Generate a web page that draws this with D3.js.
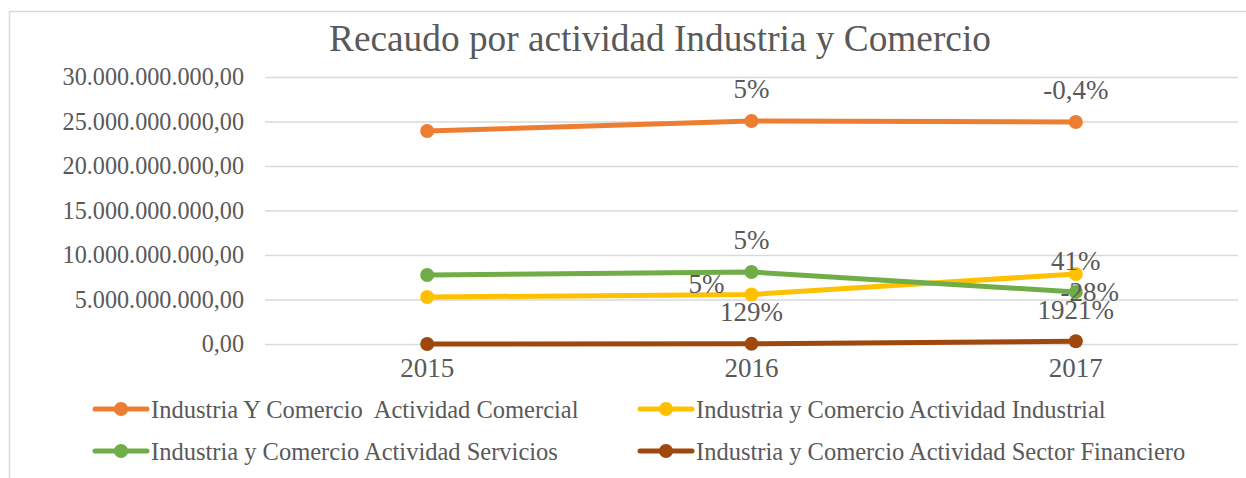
<!DOCTYPE html>
<html>
<head>
<meta charset="utf-8">
<script src="https://cdn.jsdelivr.net/npm/d3@7"></script>
<style>
  body { margin: 0; background: #fff; }
  text { font-family: "Liberation Serif", "Times New Roman", serif; fill: #595959; }
</style>
</head>
<body>
<div id="chart"></div>
<script>
// chart data
var years = ["2015", "2016", "2017"];
var seriesNames = [
  "Industria Y Comercio  Actividad Comercial",
  "Industria y Comercio Actividad Industrial",
  "Industria y Comercio Actividad Servicios",
  "Industria y Comercio Actividad Sector Financiero"
];
var comercial  = [23930000000, 25060000000, 24950000000];
var industrial = [5280000000, 5560000000, 7870000000];
var servicios  = [7750000000, 8090000000, 5840000000];
var financiero = [6500000, 14900000, 301000000];
var yTicks = [0, 5e9, 10e9, 15e9, 20e9, 25e9, 30e9];
// percentage labels (null = no label)
var comercialLabels  = [null, "5%", "-0,4%"];
var industrialLabels = [null, "5%", "41%"];
var serviciosLabels  = [null, "5%", "-28%"];
var financieroLabels = [null, "129%", "1921%"];
var colors = ["#ED7D31", "#FFC000", "#70AD47", "#9E480E"];

var W = 1246, H = 478;
var plot = {left: 265, right: 1238, top: 77, bottom: 344};

var svg = d3.select("#chart").append("svg")
  .attr("width", W).attr("height", H);

svg.append("rect").attr("width", W).attr("height", H).attr("fill", "#fff");
// outer chart border
svg.append("rect")
  .attr("x", 9.5).attr("y", 11.5)
  .attr("width", 1250).attr("height", 500)
  .attr("fill", "none").attr("stroke", "#d9d9d9").attr("stroke-width", 1.5);

svg.append("text")
  .attr("x", 660).attr("y", 51)
  .attr("text-anchor", "middle")
  .style("font-size", "37.3px")
  .text("Recaudo por actividad Industria y Comercio");

var x = d3.scaleBand().domain(years).range([plot.left, plot.right]);
var y = d3.scaleLinear().domain([0, 30e9]).range([plot.bottom, plot.top]);

var fmt = function(v) {
  var s = d3.format(",.2f")(v);
  return s.replace(/,/g, "#").replace(".", ",").replace(/#/g, ".");
};

// gridlines + y labels
var yAxis = svg.append("g")
  .attr("transform", "translate(" + plot.left + ",0)")
  .call(d3.axisLeft(y).tickValues(yTicks).tickFormat(fmt)
    .tickSize(-(plot.right - plot.left)).tickPadding(21));
yAxis.select(".domain").remove();
yAxis.selectAll("line").attr("stroke", "#d9d9d9").attr("stroke-width", 1.5);
yAxis.selectAll("text").style("font-size", "24.2px").attr("fill", "#595959");

// x labels
var xAxis = svg.append("g")
  .attr("transform", "translate(0," + plot.bottom + ")")
  .call(d3.axisBottom(x).tickSize(0).tickPadding(14));
xAxis.select(".domain").remove();
xAxis.selectAll("text").style("font-size", "27px").attr("fill", "#595959");

var all = [
  {name: seriesNames[0], values: comercial,  labels: comercialLabels,  color: colors[0], pos: ["", "above", "above"]},
  {name: seriesNames[1], values: industrial, labels: industrialLabels, color: colors[1], pos: ["", "left", "aboveNear"]},
  {name: seriesNames[2], values: servicios,  labels: serviciosLabels,  color: colors[2], pos: ["", "above", "right"]},
  {name: seriesNames[3], values: financiero, labels: financieroLabels, color: colors[3], pos: ["", "above", "above"]}
];

var line = d3.line()
  .x(function(d, i) { return x(years[i]) + x.bandwidth() / 2; })
  .y(function(d) { return y(d); });

all.forEach(function(s) {
  var g = svg.append("g");
  g.append("path").datum(s.values)
    .attr("d", line).attr("fill", "none")
    .attr("stroke", s.color).attr("stroke-width", 5)
    .attr("stroke-linecap", "round").attr("stroke-linejoin", "round");
  g.selectAll("circle").data(s.values).enter().append("circle")
    .attr("cx", function(d, i) { return x(years[i]) + x.bandwidth() / 2; })
    .attr("cy", function(d) { return y(d); })
    .attr("r", 7).attr("fill", s.color);
});

var offsets = {
  above: {dx: 0, dy: -32, anchor: "middle"},
  aboveNear: {dx: 0, dy: -13, anchor: "middle"},
  left: {dx: -27, dy: -11, anchor: "end"},
  right: {dx: 14, dy: 0, anchor: "middle"}
};
all.forEach(function(s) {
  s.labels.forEach(function(lab, i) {
    if (!lab) return;
    var o = offsets[s.pos[i]];
    svg.append("text")
      .attr("x", x(years[i]) + x.bandwidth() / 2 + o.dx)
      .attr("y", y(s.values[i]) + o.dy)
      .attr("dy", "0.35em")
      .attr("text-anchor", o.anchor)
      .style("font-size", "27px")
      .text(lab);
  });
});

// legend
var legendPos = [
  {x: 95, y: 409}, {x: 640, y: 409},
  {x: 95, y: 451}, {x: 640, y: 451}
];
all.forEach(function(s, i) {
  var p = legendPos[i];
  var g = svg.append("g").attr("transform", "translate(" + p.x + "," + p.y + ")");
  g.append("line").attr("x1", 0).attr("x2", 52).attr("y1", 0).attr("y2", 0)
    .attr("stroke", s.color).attr("stroke-width", 5).attr("stroke-linecap", "round");
  g.append("circle").attr("cx", 26).attr("cy", 0).attr("r", 7).attr("fill", s.color);
  g.append("text").attr("x", 56).attr("y", 0).attr("dy", "0.35em")
    .style("font-size", "24.5px").style("white-space", "pre").text(s.name);
});
</script>
</body>
</html>
